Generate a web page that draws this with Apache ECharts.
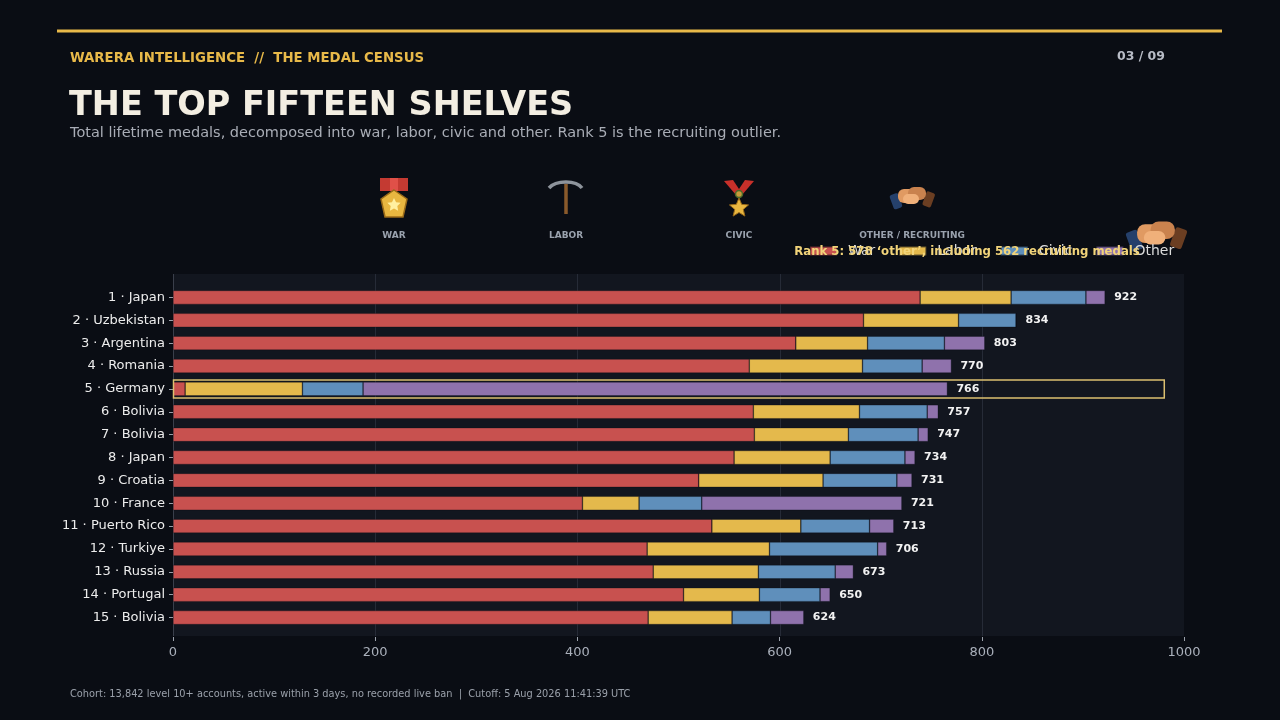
<!DOCTYPE html>
<html>
<head>
<meta charset="utf-8">
<script src="https://cdn.jsdelivr.net/npm/echarts@6/dist/echarts.min.js"></script>
<style>
  html, body { margin: 0; padding: 0; background: #0a0d14; }
  #chart { width: 1280px; height: 720px; }
</style>
</head>
<body>
<div id="chart"></div>
<script>
// data
var categories = ['1 · Japan', '2 · Uzbekistan', '3 · Argentina', '4 · Romania', '5 · Germany',
  '6 · Bolivia', '7 · Bolivia', '8 · Japan', '9 · Croatia', '10 · France',
  '11 · Puerto Rico', '12 · Turkiye', '13 · Russia', '14 · Portugal', '15 · Bolivia'];
var war   = [739, 683, 616, 570, 12, 574, 575, 555, 520, 405, 533, 469, 475, 505, 470];
var labor = [90, 94, 71, 112, 116, 105, 93, 95, 123, 56, 88, 121, 104, 75, 83];
var civic = [74, 57, 76, 59, 60, 67, 69, 74, 73, 62, 68, 107, 76, 60, 38];
var other = [19, 0, 40, 29, 578, 11, 10, 10, 15, 198, 24, 9, 18, 10, 33];
var xTicks = [0, 200, 400, 600, 800, 1000];
var highlightIndex = 4;
var highlightEnd = 980;

var colors = ['#c8514f', '#e4b94c', '#5f8fbb', '#8f72ac'];
var font = 'DejaVu Sans';

var totals = war.map(function (v, i) { return v + labor[i] + civic[i] + other[i]; });

var chart = echarts.init(document.getElementById('chart'));

function bar(name, data, idx) {
  var s = {
    name: name,
    type: 'bar',
    stack: 'medals',
    barWidth: 14,
    data: data,
    itemStyle: { color: colors[idx], borderColor: 'rgba(10,13,20,0.55)', borderWidth: 0.6 },
    emphasis: { disabled: true }
  };
  if (idx === 3) {
    s.label = {
      show: true,
      position: 'right',
      distance: 9,
      color: '#f2f2f2',
      fontFamily: font,
      fontWeight: 'bold',
      fontSize: 11,
      formatter: function (p) { return totals[p.dataIndex]; }
    };
  }
  return s;
}

// star points for the medal icons
function starPts(cx, cy, r, r0) {
  var pts = [];
  for (var i = 0; i < 10; i++) {
    var a = -Math.PI / 2 + i * Math.PI / 5;
    var rr = i % 2 === 0 ? r : r0;
    pts.push([cx + rr * Math.cos(a), cy + rr * Math.sin(a)]);
  }
  return pts;
}

function handshake(cx, cy, s) {
  return {
    type: 'group', x: cx, y: cy, scaleX: s, scaleY: s, z: 120,
    children: [
      { type: 'rect', shape: { x: -21, y: -9, width: 9, height: 15, r: 2 }, rotation: 0.35, style: { fill: '#25406b' } },
      { type: 'rect', shape: { x: 12, y: -11, width: 9, height: 15, r: 2 }, rotation: -0.35, style: { fill: '#6b3e22' } },
      { type: 'rect', shape: { x: -14, y: -8, width: 20, height: 14, r: 6 }, style: { fill: '#e09a62' } },
      { type: 'rect', shape: { x: -4, y: -10, width: 18, height: 13, r: 6 }, style: { fill: '#c9824e' } },
      { type: 'rect', shape: { x: -9, y: -3, width: 16, height: 10, r: 5 }, style: { fill: '#f0b07a' } }
    ]
  };
}

function iconLabel(x, text) {
  return { type: 'text', x: x, y: 236, z: 50, style: { text: text, fill: '#9aa2ae', font: 'bold 9px ' + font, textAlign: 'center', textVerticalAlign: 'middle' } };
}

var option = {
  backgroundColor: '#0a0d14',
  animation: false,
  color: colors,
  legend: {
    data: ['War', 'Labor', 'Civic', 'Other'],
    left: 809,
    top: 244,
    padding: 0,
    itemWidth: 27,
    itemHeight: 9,
    itemGap: 23,
    icon: 'rect',
    textStyle: { color: '#dcdcdc', fontFamily: font, fontSize: 14, padding: [0, 0, 0, 6] }
  },
  grid: { left: 173, right: 96, top: 286, bottom: 91, containLabel: false },
  xAxis: {
    type: 'value',
    min: 0,
    max: 1000,
    interval: 200,
    offset: 8,
    axisLine: { show: false },
    axisTick: { show: true, length: 4, lineStyle: { color: '#9aa0aa' } },
    axisLabel: { color: '#aab0bb', fontFamily: font, fontSize: 13, margin: 9,
      formatter: function (v) { return String(v); } },
    splitLine: { show: false }
  },
  yAxis: {
    type: 'category',
    data: categories,
    inverse: true,
    axisLine: { show: false },
    axisTick: { show: true, length: 4, alignWithLabel: true, lineStyle: { color: '#9aa0aa' } },
    axisLabel: { color: '#ececec', fontFamily: font, fontSize: 13, margin: 8 }
  },
  series: [
    bar('War', war, 0),
    bar('Labor', labor, 1),
    bar('Civic', civic, 2),
    bar('Other', other, 3)
  ],
  graphic: [
    // panel background behind the bars
    { type: 'rect', z: -10, shape: { x: 173, y: 274, width: 1011, height: 362 }, style: { fill: '#12161f' } },
    { type: 'line', z: -5, shape: { x1: 173.5, y1: 274, x2: 173.5, y2: 636 }, style: { stroke: '#3a3f4b', lineWidth: 1 } },
    // top rule
    { type: 'rect', shape: { x: 57, y: 29.5, width: 1165, height: 3 }, style: { fill: '#e8b949' } },
    { type: 'text', x: 70, y: 58, style: { text: 'WARERA INTELLIGENCE  //  THE MEDAL CENSUS', fill: '#e8b949', font: 'bold 14.8px "DejaVu Sans Condensed", ' + font, textVerticalAlign: 'middle' } },
    { type: 'text', x: 1165, y: 57, style: { text: '03 / 09', fill: '#b8bcc6', font: 'bold 12.5px ' + font, textAlign: 'right', textVerticalAlign: 'middle' } },
    { type: 'text', x: 69, y: 106, style: { text: 'THE TOP FIFTEEN SHELVES', fill: '#f3eee2', font: 'bold 33.5px ' + font, textVerticalAlign: 'middle' } },
    { type: 'text', x: 70, y: 133, style: { text: 'Total lifetime medals, decomposed into war, labor, civic and other. Rank 5 is the recruiting outlier.', fill: '#a9adb6', font: '14.5px ' + font, textVerticalAlign: 'middle' } },
    { type: 'text', x: 70, y: 694, style: { text: 'Cohort: 13,842 level 10+ accounts, active within 3 days, no recorded live ban  |  Cutoff: 5 Aug 2026 11:41:39 UTC', fill: '#9aa0aa', font: '9.8px ' + font, textVerticalAlign: 'middle' } },

    // war medal icon
    { type: 'group', children: [
      { type: 'rect', shape: { x: 380, y: 178, width: 28, height: 13 }, style: { fill: '#c43a32' } },
      { type: 'rect', shape: { x: 390, y: 178, width: 8, height: 13 }, style: { fill: '#e05048' } },
      { type: 'polygon', shape: { points: [[394, 190], [407, 199], [403, 217], [385, 217], [381, 199]] }, style: { fill: '#e8b640', stroke: '#9a6a18', lineWidth: 1.5 } },
      { type: 'polygon', shape: { points: starPts(394, 205, 7, 3.5) }, style: { fill: '#fff0a0' } }
    ] },
    iconLabel(394, 'WAR'),
    // pickaxe icon
    { type: 'group', children: [
      { type: 'line', shape: { x1: 566, y1: 184, x2: 566, y2: 214 }, style: { stroke: '#8a5a2b', lineWidth: 3.5 } },
      { type: 'bezierCurve', shape: { x1: 549, y1: 188, cpx1: 556, cpy1: 180, cpx2: 576, cpy2: 180, x2: 582, y2: 188 }, style: { stroke: '#8e949c', lineWidth: 3.5, fill: 'none' } }
    ] },
    iconLabel(566, 'LABOR'),
    // civic medal icon
    { type: 'group', children: [
      { type: 'polygon', shape: { points: [[724, 181], [733, 180], [741, 192], [736, 195]] }, style: { fill: '#c8302a' } },
      { type: 'polygon', shape: { points: [[754, 181], [745, 180], [737, 192], [742, 195]] }, style: { fill: '#c8302a' } },
      { type: 'circle', shape: { cx: 739, cy: 194, r: 3.5 }, style: { fill: '#c89a3a', stroke: '#4a6a2a', lineWidth: 1.5 } },
      { type: 'polygon', shape: { points: starPts(739, 208, 10, 4.5) }, style: { fill: '#e8b640', stroke: '#9a6a18', lineWidth: 1 } }
    ] },
    iconLabel(739, 'CIVIC'),
    handshake(912, 197, 1),
    iconLabel(912, 'OTHER / RECRUITING'),
    handshake(1156, 235, 1.35),

    // callout for rank 5
    { type: 'text', x: 967, y: 252, z: 130, style: { text: 'Rank 5: 578 \u2018other\u2019, including 562 recruiting medals', fill: '#f2d47a', font: 'bold 11.7px ' + font, textAlign: 'center', textVerticalAlign: 'middle' } }
  ]
};

chart.setOption(option);

// full-height gridlines at the x ticks and the rank-5 outline, placed through the axes
var g = option.graphic.slice();
xTicks.slice(1, -1).forEach(function (t) {
  var px = Math.round(chart.convertToPixel({ xAxisIndex: 0 }, t)) + 0.5;
  g.push({ type: 'line', z: -5, shape: { x1: px, y1: 274, x2: px, y2: 636 }, style: { stroke: '#262b37', lineWidth: 1 } });
});
var p0 = chart.convertToPixel({ gridIndex: 0 }, [0, highlightIndex]);
var p1 = chart.convertToPixel({ gridIndex: 0 }, [highlightEnd, highlightIndex]);
g.push({ type: 'rect', z: 110, shape: { x: p0[0] + 0.5, y: p0[1] - 9, width: p1[0] - p0[0], height: 18 },
  style: { fill: 'none', stroke: '#dcc070', lineWidth: 1.5 } });
chart.setOption({ graphic: g }, { replaceMerge: ['graphic'] });
</script>
</body>
</html>
